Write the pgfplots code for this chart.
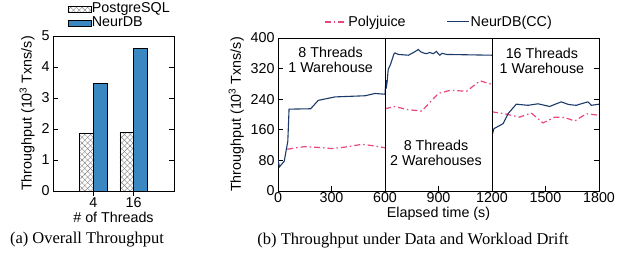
\documentclass[border=0pt]{standalone}
\usepackage{fontspec}
\setmainfont{Liberation Sans}
\newfontfamily\capfont{Liberation Serif}
\usepackage{pgfplots}
\pgfplotsset{compat=1.18}
\usetikzlibrary{patterns,patterns.meta}
\definecolor{neurblue}{HTML}{3A87C2}
\definecolor{navy}{HTML}{1B3A6B}
\definecolor{polypink}{HTML}{E8467C}
\begin{document}
\begin{tikzpicture}
\path[use as bounding box] (0,0) rectangle (636bp,259bp);
\pgfplotsset{
  every axis/.append style={
    font=\fontsize{14.3bp}{15bp}\selectfont,
    /pgf/number format/assume math mode=true,
    /pgf/number format/1000 sep={},
    scale only axis,
    tick align=inside,
    major tick length=5bp,
    axis line style={line width=0.9bp},
    every tick/.style={line width=0.8bp, black},
    xticklabel style={yshift=2bp},
    xlabel style={yshift=2.5bp},
  },
  polystyle/.style={polypink, line width=1.2bp, dash pattern=on 6bp off 3bp on 1.5bp off 3bp},
}
% ---------- (a) bar chart ----------
\begin{axis}[
  at={(53bp,68bp)}, anchor=south west,
  width=121bp, height=155bp,
  xmin=0, xmax=3, ymin=0, ymax=5,
  ytick={0,1,2,3,4,5},
  xtick={1,2}, xticklabels={4,16},
  xtick pos=lower, ytick pos=both,
  ybar=0pt, bar width=13.7bp,
  ylabel={Throughput (10\textsuperscript{3} Txns/s)},
  xlabel={\# of Threads},
  legend style={at={(0.545,1.126)}, anchor=center, draw=none, fill=none,
    legend columns=1, row sep=0pt, inner sep=0pt,
    nodes={inner sep=0.5bp, text height=10bp, text depth=3bp}},
  legend cell align=left,
  legend image code/.code={\draw[#1] (0bp,-3bp) rectangle (23bp,3bp);},
]
\addplot[draw=black, line width=0.8bp, fill=white,
  postaction={pattern={Lines[angle=45,distance=4bp,line width=0.4bp]}, pattern color=gray},
  postaction={pattern={Lines[angle=-45,distance=4bp,line width=0.4bp]}, pattern color=gray}]
  coordinates {(1,1.86) (2,1.89)};
\addplot[draw=black, line width=0.8bp, fill=neurblue] coordinates {(1,3.47) (2,4.60)};
\legend{PostgreSQL, NeurDB}
\end{axis}
% ---------- (b) line chart ----------
\begin{axis}[
  at={(278bp,68bp)}, anchor=south west,
  width=321bp, height=153bp,
  xmin=0, xmax=1800, ymin=0, ymax=400,
  xtick={0,300,...,1800}, ytick={0,80,...,400},
  xtick pos=lower, ytick pos=both,
  ylabel={Throughput (10\textsuperscript{3} Txns/s)},
  xlabel={Elapsed time (s)},
  legend style={at={(0.5,1.105)}, anchor=center, draw=none, fill=none,
    legend columns=2, inner sep=0pt, nodes={inner sep=1bp},
    /tikz/every even column/.append style={column sep=40bp}},
  legend image code/.code={\draw[#1] (0bp,0bp) -- (22bp,0bp);},
]
\addplot[polystyle]
 coordinates {(52,109) (100,113) (151,116) (225,114) (301,111) (380,115) (469,122) (540,118) (600,113)};
\addlegendentry{Polyjuice}
\addplot[navy, line width=1.1bp]
 coordinates {(0,82) (8,63) (35,78) (55,130) (62,214) (183,215) (226,237) (320,246) (488,249) (544,255) (600,253)
 (602,268) (605,290) (607,268) (612,285) (618,318) (630,330) (650,358) (656,361) (675,357) (731,355) (760,362) (787,370) (800,364) (815,361) (832,359) (850,362) (871,359) (888,365) (897,360) (907,355) (920,360) (946,357) (1200,355)};
\addlegendentry{NeurDB(CC)}
\addplot[polystyle, forget plot]
 coordinates {(600,215) (656,221) (721,213) (806,209) (899,255) (964,263) (1058,261) (1133,288) (1198,279)};
\addplot[polystyle, forget plot]
 coordinates {(1200,207) (1270,202) (1354,193) (1420,204) (1486,178) (1552,193) (1608,192) (1664,183) (1729,202) (1800,198)};
\addplot[navy, line width=1.1bp, forget plot]
 coordinates {(1202,148) (1211,163) (1262,176) (1290,202) (1336,227) (1402,224) (1458,228) (1523,221) (1588,233) (1630,226) (1673,224) (1700,228) (1738,233) (1757,224) (1800,227)};
\addplot[black, line width=0.9bp, forget plot] coordinates {(600,0) (600,400)};
\addplot[black, line width=0.9bp, forget plot] coordinates {(1200,0) (1200,400)};
\node[align=center, font=\fontsize{14.3bp}{15bp}\selectfont] at (axis cs:295,342) {8 Threads\\1 Warehouse};
\node[align=center, font=\fontsize{14.3bp}{15bp}\selectfont] at (axis cs:886,99) {8 Threads\\2 Warehouses};
\node[align=center, font=\fontsize{14.3bp}{15bp}\selectfont] at (axis cs:1480,340) {16 Threads\\1 Warehouse};
\end{axis}
\node[font=\capfont\fontsize{16.5bp}{18bp}\selectfont] at (87bp,19bp) {(a) Overall Throughput};
\node[font=\capfont\fontsize{16.5bp}{18bp}\selectfont] at (413bp,19bp) {(b) Throughput under Data and Workload Drift};
\end{tikzpicture}
\end{document}
